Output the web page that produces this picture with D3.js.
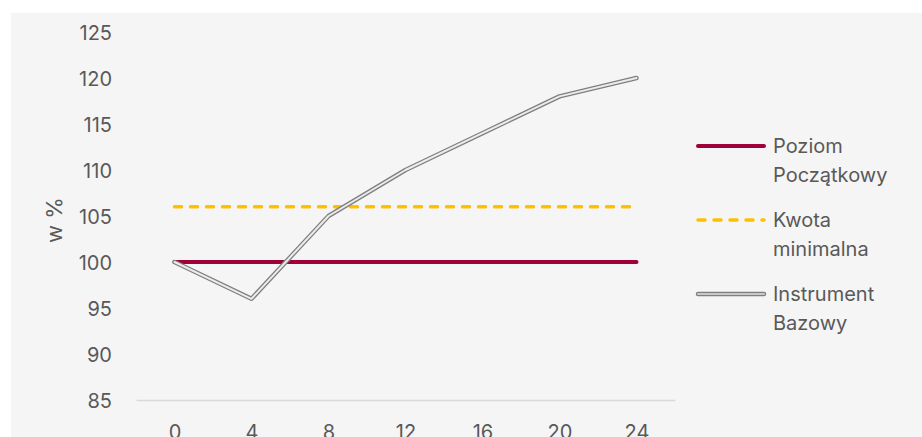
<!DOCTYPE html>
<html>
<head>
<meta charset="utf-8">
<script src="https://cdn.jsdelivr.net/npm/d3@7"></script>
<style>
	body { margin: 0; background: #fff; }
	svg { display: block; font-family: Inter, sans-serif; }
</style>
</head>
<body>
<div id="chart"></div>
<script>
// ---------- DATA ----------
const months = [0, 4, 8, 12, 16, 20, 24];
const poziomPoczatkowy = [100, 100, 100, 100, 100, 100, 100];
const kwotaMinimalna = [106, 106, 106, 106, 106, 106, 106];
const instrumentBazowy = [100, 96, 105, 110, 114, 118, 120];
const yTicks = [85, 90, 95, 100, 105, 110, 115, 120, 125];
const seriesNames = [["Poziom", "Początkowy"], ["Kwota", "minimalna"], ["Instrument", "Bazowy"]];

const colorDef = {
	maroon: "#A0003A",
	gold: "#FFC000",
	gray: "#7f7f7f",
	inner: "#ececec",
	text: "#595959",
	bg: "#f5f5f5",
};
const fontSize = 20;

const size = { w: 922, h: 437 };
const margin = { top: 32, right: 247, bottom: 37, left: 136 };

const svg = d3
	.select("#chart")
	.append("svg")
	.attr("width", size.w)
	.attr("height", size.h);

// chart area background
svg.append("rect")
	.attr("x", 11)
	.attr("y", 13)
	.attr("width", size.w - 11)
	.attr("height", size.h - 13)
	.attr("fill", colorDef.bg);

const xScale = d3
	.scalePoint()
	.domain(months)
	.range([margin.left, size.w - margin.right])
	.padding(0.5);

const yScale = d3
	.scaleLinear()
	.domain([85, 125])
	.range([size.h - margin.bottom, margin.top]);

// y axis labels (no line)
const yAxis = svg
	.append("g")
	.attr("transform", `translate(${margin.left - 24}, 1)`)
	.call(d3.axisLeft(yScale).tickValues(yTicks).tickSize(0).tickPadding(0));
yAxis.select(".domain").remove();
yAxis.selectAll("text")
	.attr("fill", colorDef.text)
	.attr("font-size", fontSize)
	.attr("font-family", "Inter, sans-serif");

// x axis
const xAxis = svg
	.append("g")
	.attr("transform", `translate(0, ${yScale(85)})`)
	.call(d3.axisBottom(xScale).tickSize(0).tickPadding(25));
xAxis.select(".domain")
	.attr("stroke", "#d9d9d9")
	.attr("stroke-width", 1.5);
xAxis.selectAll("text")
	.attr("fill", colorDef.text)
	.attr("font-size", fontSize)
	.attr("font-family", "Inter, sans-serif");

// axis title
svg.append("text")
	.attr("transform", `translate(62, ${(yScale(85) + yScale(125)) / 2 + 4}) rotate(-90)`)
	.attr("text-anchor", "middle")
	.attr("fill", colorDef.text)
	.attr("font-size", 22)
	.text("w %");

const line = d3
	.line()
	.x((d, i) => xScale(months[i]))
	.y((d) => yScale(d));

// Poziom Początkowy
svg.append("path")
	.datum(poziomPoczatkowy)
	.attr("d", line)
	.attr("fill", "none")
	.attr("stroke", colorDef.maroon)
	.attr("stroke-width", 4)
	.attr("stroke-linecap", "round");

// Kwota minimalna
svg.append("path")
	.datum(kwotaMinimalna)
	.attr("d", line)
	.attr("fill", "none")
	.attr("stroke", colorDef.gold)
	.attr("stroke-width", 3.5)
	.attr("stroke-dasharray", "7 9")
	.attr("stroke-linecap", "round");

// Instrument Bazowy (double line)
svg.append("path")
	.datum(instrumentBazowy)
	.attr("d", line)
	.attr("fill", "none")
	.attr("stroke", colorDef.gray)
	.attr("stroke-width", 4.5)
	.attr("stroke-linejoin", "round")
	.attr("stroke-linecap", "round");
svg.append("path")
	.datum(instrumentBazowy)
	.attr("d", line)
	.attr("fill", "none")
	.attr("stroke", colorDef.inner)
	.attr("stroke-width", 2)
	.attr("stroke-linejoin", "round")
	.attr("stroke-linecap", "round");

// ---------- LEGEND ----------
const legend = svg.append("g").attr("transform", "translate(698, 146)");
const legendStep = 74;

seriesNames.forEach((name, i) => {
	const g = legend.append("g").attr("transform", `translate(0, ${i * legendStep})`);
	if (i === 0) {
		g.append("line").attr("x1", 0).attr("x2", 66)
			.attr("stroke", colorDef.maroon).attr("stroke-width", 4).attr("stroke-linecap", "round");
	} else if (i === 1) {
		g.append("line").attr("x1", 0).attr("x2", 66)
			.attr("stroke", colorDef.gold).attr("stroke-width", 3.5)
			.attr("stroke-dasharray", "7 9").attr("stroke-linecap", "round");
	} else {
		g.append("line").attr("x1", 0).attr("x2", 66)
			.attr("stroke", colorDef.gray).attr("stroke-width", 4.5).attr("stroke-linecap", "round");
		g.append("line").attr("x1", 0).attr("x2", 66)
			.attr("stroke", "#c8c8c8").attr("stroke-width", 2).attr("stroke-linecap", "round");
	}
	const t = g.append("text")
		.attr("x", 75)
		.attr("y", 7)
		.attr("fill", colorDef.text)
		.attr("font-size", fontSize);
	t.append("tspan").attr("x", 75).text(name[0]);
	t.append("tspan").attr("x", 75).attr("dy", 29).text(name[1]);
});
</script>
</body>
</html>
